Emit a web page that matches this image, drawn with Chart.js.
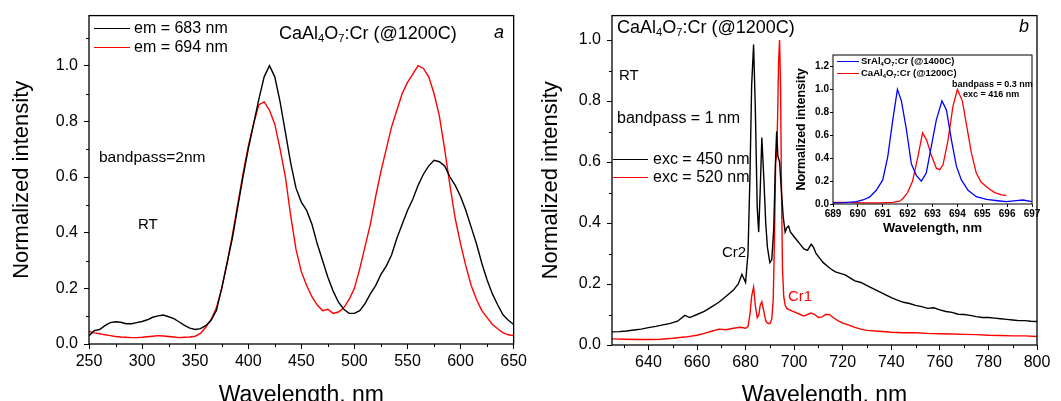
<!DOCTYPE html>
<html>
<head>
<meta charset="utf-8">
<script src="https://cdn.jsdelivr.net/npm/chart.js@4.4.1/dist/chart.umd.min.js"></script>
<style>
  html, body { margin: 0; padding: 0; background: #fff; }
  #wrap { position: relative; width: 1061px; height: 401px; overflow: hidden; background: #fff;
          font-family: Arial, "Liberation Sans", sans-serif; }
  canvas { position: absolute; }
  .t { position: absolute; white-space: nowrap; line-height: 1; color: #000; }
  .t sub { font-size: 0.62em; line-height: 0; vertical-align: -0.3em; }
  .b { font-weight: bold; }
  .ln { position: absolute; height: 0; border-top: 1.5px solid #000; }
</style>
</head>
<body>
<div id="wrap">
  <canvas id="chartA" width="530" height="409" style="left:0;top:0"></canvas>
  <canvas id="chartB" width="531" height="409" style="left:530px;top:0"></canvas>
  <canvas id="chartIn" width="257" height="192" style="left:785px;top:48px"></canvas>

  <!-- panel a labels -->
  <div class="ln" style="left:94px;top:28px;width:36px;border-color:#000"></div>
  <div class="ln" style="left:94px;top:47px;width:36px;border-color:#f00"></div>
  <div class="t" style="left:134px;top:20px;font-size:16px">em = 683 nm</div>
  <div class="t" style="left:134px;top:39px;font-size:16px">em = 694 nm</div>
  <div class="t" style="left:279px;top:24px;font-size:18px">CaAl<sub>4</sub>O<sub>7</sub>:Cr (@1200C)</div>
  <div class="t" style="left:494px;top:23px;font-size:18px;font-style:italic">a</div>
  <div class="t" style="left:99px;top:149px;font-size:15.5px">bandpass=2nm</div>
  <div class="t" style="left:138px;top:216px;font-size:15px">RT</div>

  <!-- panel b labels -->
  <div class="t" style="left:617px;top:18px;font-size:18px">CaAl<sub>4</sub>O<sub>7</sub>:Cr (@1200C)</div>
  <div class="t" style="left:1019px;top:17px;font-size:18px;font-style:italic">b</div>
  <div class="t" style="left:619px;top:67px;font-size:15px">RT</div>
  <div class="t" style="left:617px;top:110px;font-size:16px">bandpass = 1 nm</div>
  <div class="ln" style="left:613px;top:159px;width:35px;border-color:#000"></div>
  <div class="ln" style="left:613px;top:177px;width:35px;border-color:#f00"></div>
  <div class="t" style="left:653px;top:151px;font-size:16px">exc = 450 nm</div>
  <div class="t" style="left:653px;top:169px;font-size:16px">exc = 520 nm</div>
  <div class="t" style="left:722px;top:244px;font-size:15px">Cr2</div>
  <div class="t" style="left:788px;top:288px;font-size:15px;color:#f00">Cr1</div>

  <!-- inset labels -->
  <div class="ln" style="left:837px;top:61px;width:22px;border-color:#00f"></div>
  <div class="ln" style="left:837px;top:73px;width:22px;border-color:#f00"></div>
  <div class="t b" style="left:861px;top:56px;font-size:9.5px">SrAl<sub>4</sub>O<sub>7</sub>:Cr (@1400C)</div>
  <div class="t b" style="left:861px;top:68px;font-size:9.5px">CaAl<sub>4</sub>O<sub>7</sub>:Cr (@1200C)</div>
  <div class="t b" style="left:952px;top:80px;font-size:9px">bandpass = 0.3 nm</div>
  <div class="t b" style="left:963px;top:90px;font-size:9px">exc = 416 nm</div>
</div>

<script>
// ---------- panel a : excitation spectra ----------
const aWave = [
  250,255,260,265,270,275,280,285,290,295,
  300,305,310,315,320,325,330,335,340,345,
  350,355,360,365,370,375,380,385,390,395,
  400,405,410,415,420,425,430,435,440,445,
  450,455,460,465,470,475,480,485,490,495,
  500,505,510,515,520,525,530,535,540,545,
  550,555,560,565,570,575,580,585,590,595,
  600,605,610,615,620,625,630,635,640,645,
  650];
const aEm683 = [
  0.03,0.048,0.052,0.066,0.077,0.08,0.078,0.073,0.073,0.077,
  0.081,0.087,0.096,0.101,0.104,0.098,0.091,0.079,0.067,0.057,
  0.052,0.055,0.066,0.085,0.12,0.2,0.29,0.38,0.49,0.6,
  0.7,0.79,0.88,0.96,1.0,0.96,0.87,0.76,0.65,0.56,
  0.51,0.48,0.43,0.36,0.3,0.24,0.19,0.15,0.125,0.11,
  0.11,0.12,0.145,0.18,0.21,0.25,0.28,0.32,0.38,0.43,
  0.48,0.52,0.57,0.61,0.64,0.66,0.655,0.64,0.6,0.57,
  0.53,0.48,0.42,0.36,0.29,0.23,0.18,0.14,0.105,0.085,
  0.07];
const aEm694 = [
  0.045,0.04,0.037,0.033,0.03,0.027,0.025,0.024,0.023,0.023,
  0.024,0.026,0.028,0.03,0.029,0.027,0.025,0.023,0.024,0.025,
  0.028,0.038,0.06,0.088,0.13,0.2,0.29,0.39,0.5,0.61,
  0.71,0.79,0.86,0.87,0.84,0.79,0.7,0.6,0.46,0.34,
  0.26,0.21,0.17,0.14,0.12,0.125,0.11,0.115,0.13,0.16,
  0.2,0.27,0.35,0.43,0.53,0.62,0.7,0.78,0.84,0.9,
  0.94,0.97,1.0,0.99,0.96,0.9,0.82,0.7,0.57,0.45,
  0.36,0.28,0.21,0.16,0.12,0.095,0.07,0.055,0.04,0.033,
  0.03];

// ---------- panel b : emission spectra ----------
const bWave450 = [
  625,628,631,634,637,640,643,646,649,652,
  655,657,660,663,666,669,672,675,677,678.5,
  680,681,681.8,682.5,683.3,684,684.8,685.4,686,686.7,
  687.5,688.3,689,690,690.8,691.6,692.3,692.8,693.3,694,
  694.8,695.5,696.3,697,697.7,698.5,699.5,701,702.5,704,
  705.5,707,708,709,710.5,712,713.5,715,717,719,
  721,723,725,727.5,730,732.5,735,737.5,740,742.5,
  745,747.5,750,752.5,755,757.5,760,762.5,765,767.5,
  770,772.5,775,777.5,780,782.5,785,787.5,790,792.5,
  795,797.5,800];
const bExc450 = [
  0.043,0.044,0.046,0.049,0.052,0.057,0.061,0.066,0.071,0.078,
  0.097,0.09,0.1,0.11,0.125,0.14,0.16,0.18,0.2,0.232,
  0.205,0.3,0.55,0.85,0.985,0.78,0.45,0.37,0.5,0.68,
  0.55,0.4,0.32,0.27,0.28,0.38,0.6,0.7,0.62,0.6,
  0.5,0.42,0.37,0.385,0.39,0.37,0.36,0.345,0.33,0.315,
  0.31,0.33,0.32,0.3,0.285,0.27,0.26,0.25,0.24,0.235,
  0.23,0.22,0.21,0.205,0.195,0.185,0.175,0.165,0.155,0.147,
  0.14,0.136,0.13,0.126,0.12,0.122,0.115,0.11,0.107,0.101,
  0.1,0.097,0.093,0.09,0.09,0.088,0.086,0.084,0.082,0.08,
  0.08,0.078,0.077];
const bWave520 = [
  625,630,635,640,645,650,655,660,663,666,
  669,672,675,678,680,681,681.8,682.5,683.3,684,
  684.8,685.5,686,686.7,687.5,688.3,689,690,690.8,691.4,
  691.9,692.4,692.8,693.2,693.6,694,694.4,694.8,695.2,695.7,
  696.3,697,698,699.5,701,702.5,704,705.5,707,708.5,
  710,711.5,713,714.5,716,718,720,722.5,725,727.5,
  730,735,740,745,750,755,760,765,770,775,
  780,785,790,795,800];
const bExc520 = [
  0.02,0.019,0.018,0.018,0.019,0.022,0.026,0.032,0.038,0.045,
  0.052,0.05,0.055,0.058,0.055,0.06,0.1,0.16,0.19,0.13,
  0.09,0.1,0.13,0.142,0.11,0.08,0.072,0.07,0.085,0.15,
  0.35,0.6,0.62,0.75,0.93,1.0,0.85,0.5,0.25,0.16,
  0.13,0.12,0.115,0.11,0.105,0.1,0.095,0.1,0.105,0.1,
  0.09,0.092,0.1,0.1,0.09,0.08,0.072,0.065,0.058,0.052,
  0.048,0.045,0.042,0.04,0.04,0.038,0.037,0.036,0.035,0.034,
  0.032,0.031,0.03,0.03,0.028];

// ---------- inset : high resolution R-lines ----------
const inWaveSr = [
  689,689.5,689.94,690.2,690.47,690.74,691,691.2,691.4,691.59,
  691.75,691.95,692.15,692.35,692.55,692.75,692.95,693.15,693.38,693.56,
  693.76,693.96,694.16,694.43,694.76,695.17,695.7,695.97,696.37,696.64,
  697];
const inSr = [
  0.01,0.012,0.02,0.035,0.06,0.12,0.21,0.41,0.73,1.0,
  0.9,0.65,0.35,0.25,0.2,0.27,0.5,0.73,0.9,0.82,
  0.56,0.33,0.21,0.12,0.064,0.04,0.026,0.02,0.03,0.035,
  0.02];
const inWaveCa = [
  689,689.54,690.2,690.88,691.41,691.68,691.82,692,692.2,692.42,
  692.6,692.76,692.96,693.16,693.29,693.42,693.62,693.82,694,694.2,
  694.36,694.56,694.76,694.96,695.23,695.5,695.77,695.97];
const inCa = [
  0.015,0.015,0.01,0.01,0.015,0.025,0.05,0.1,0.2,0.42,
  0.62,0.56,0.42,0.31,0.3,0.34,0.55,0.85,1.0,0.9,
  0.7,0.45,0.27,0.19,0.14,0.1,0.08,0.075];

// minor tick positions
const aMinorX = [275,325,375,425,475,525,575,625];
const aMinorY = [0.1,0.3,0.5,0.7,0.9,1.1];
const bMinorX = [630,650,670,690,710,730,750,770,790];
const bMinorY = [0.1,0.3,0.5,0.7,0.9];

const FONT = 'Arial, "Liberation Sans", sans-serif';
Chart.defaults.font.family = FONT;
Chart.defaults.color = '#000';

const pts = (xs, ys) => xs.map((x, i) => ({ x: x, y: ys[i] }));

// box around the plot + small minor ticks
const framePlugin = {
  id: 'frame',
  afterDatasetsDraw(chart, args, o) {
    const { ctx, chartArea: ca } = chart;
    const sx = chart.scales.x, sy = chart.scales.y;
    ctx.save();
    ctx.strokeStyle = '#000';
    ctx.lineWidth = o.width || 1.2;
    ctx.strokeRect(ca.left, ca.top, ca.right - ca.left, ca.bottom - ca.top);
    ctx.lineWidth = 1;
    ctx.beginPath();
    (o.minorX || []).forEach(v => {
      const p = Math.round(sx.getPixelForValue(v)) + 0.5;
      ctx.moveTo(p, ca.bottom); ctx.lineTo(p, ca.bottom + o.len);
    });
    (o.minorY || []).forEach(v => {
      const p = Math.round(sy.getPixelForValue(v)) + 0.5;
      ctx.moveTo(ca.left, p); ctx.lineTo(ca.left - o.len, p);
    });
    ctx.stroke();
    ctx.restore();
  }
};

function line(data, color, w) {
  return { data: data, borderColor: color, borderWidth: w || 1.4, pointRadius: 0, tension: 0, fill: false };
}

function makeChart(id, datasets, c) {
  return new Chart(document.getElementById(id), {
    type: 'line',
    data: { datasets: datasets },
    plugins: [framePlugin],
    options: {
      responsive: false,
      animation: false,
      devicePixelRatio: 1,
      layout: { padding: { left: 0, right: c.padRight, top: c.padTop, bottom: 0 } },
      plugins: {
        legend: { display: false },
        tooltip: { enabled: false },
        frame: { minorX: c.minorX, minorY: c.minorY, len: c.minorLen, width: c.frameW }
      },
      scales: {
        x: {
          type: 'linear', min: c.xMin, max: c.xMax,
          ticks: { stepSize: c.xStep, autoSkip: false, maxRotation: 0, includeBounds: false,
                   font: { size: c.tickSize, weight: c.weight }, color: '#000', padding: c.xTickPad },
          grid: { drawOnChartArea: false, color: '#000', tickLength: c.tickLen, lineWidth: 1 },
          border: { display: false },
          title: { display: true, text: 'Wavelength, nm', color: '#000',
                   font: { size: c.xTitleSize, weight: c.weight, lineHeight: 1 },
                   padding: { top: 0, bottom: c.xTitlePad } },
          afterFit: s => { s.height = c.xH; }
        },
        y: {
          min: 0, max: c.yMax,
          ticks: { stepSize: 0.2, includeBounds: false, callback: v => v.toFixed(1),
                   font: { size: c.tickSize, weight: c.weight }, color: '#000', padding: c.yTickPad },
          grid: { drawOnChartArea: false, color: '#000', tickLength: c.tickLen, lineWidth: 1 },
          border: { display: false },
          title: { display: true, text: 'Normalized intensity', color: '#000',
                   font: { size: c.yTitleSize, weight: c.weight, lineHeight: 1 },
                   padding: { top: c.yTitlePad, bottom: 0 } },
          afterFit: s => { s.width = c.yW; }
        }
      }
    }
  });
}

// panel a
makeChart('chartA', [
  line(pts(aWave, aEm683), '#000000'),
  line(pts(aWave, aEm694), '#ff0000')
], {
  padRight: 15, padTop: 15, xMin: 250, xMax: 650, xStep: 50, yMax: 1.18,
  tickSize: 16, weight: 'normal', tickLen: 5, xTickPad: 3, yTickPad: 6,
  xTitleSize: 23, xTitlePad: 2, xH: 65, yTitleSize: 22, yTitlePad: 11, yW: 89,
  minorX: aMinorX, minorY: aMinorY, minorLen: 3, frameW: 1.3
});

// panel b
makeChart('chartB', [
  line(pts(bWave450, bExc450), '#000000'),
  line(pts(bWave520, bExc520), '#ff0000')
], {
  padRight: 24, padTop: 15, xMin: 625, xMax: 800, xStep: 20, yMax: 1.08,
  tickSize: 16, weight: 'normal', tickLen: 5, xTickPad: 3, yTickPad: 6,
  xTitleSize: 23, xTitlePad: 2, xH: 64, yTitleSize: 22, yTitlePad: 10, yW: 82,
  minorX: bMinorX, minorY: bMinorY, minorLen: 3, frameW: 1.3
});

// inset
makeChart('chartIn', [
  line(pts(inWaveSr, inSr), '#0000ff', 1.3),
  line(pts(inWaveCa, inCa), '#ff0000', 1.3)
], {
  padRight: 10, padTop: 6, xMin: 689, xMax: 697, xStep: 1, yMax: 1.3,
  tickSize: 10, weight: 'bold', tickLen: 3, xTickPad: 1, yTickPad: 1,
  xTitleSize: 13, xTitlePad: 5, xH: 36, yTitleSize: 12.5, yTitlePad: 10, yW: 48,
  minorX: [], minorY: [], minorLen: 2, frameW: 1
});
</script>
</body>
</html>
